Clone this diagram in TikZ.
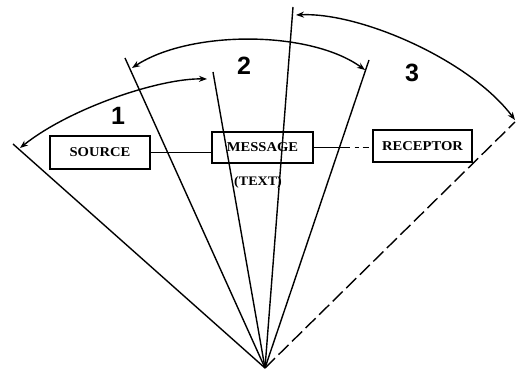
\documentclass[tikz,border=0pt]{standalone}
\usepackage{fontspec}
\usepackage{graphicx}
\setmainfont{Liberation Serif}
\newfontfamily\digitfont{Liberation Sans}
\usetikzlibrary{arrows.meta}
\newcommand\boxlabel[1]{\scalebox{1.08}[1]{\bfseries #1}}
\begin{document}
\begin{tikzpicture}[x=1pt, y=-1pt, line width=1.4pt,
  box/.style={draw, inner sep=0pt, minimum height=31pt, font=\fontsize{13.5}{15}\selectfont},
  span/.style={{Stealth[length=8pt,width=6pt]}-{Stealth[length=8pt,width=6pt]}},
  num/.style={font=\digitfont\bfseries\fontsize{25}{28}\selectfont},
  small/.style={font=\fontsize{13}{15}\selectfont}]
\useasboundingbox (0,0) rectangle (517,371);

% fan of rays from the common apex
\coordinate (O) at (265,368);
\coordinate (r1) at (13,144);
\coordinate (r2) at (125,58);
\coordinate (r3) at (213,72);
\coordinate (r4) at (293,7);
\coordinate (r5) at (369,60);
\coordinate (r6) at (515,122);
\draw (O) -- (r1);
\draw (O) -- (r2);
\draw (O) -- (r3);
\draw (O) -- (r4);
\draw (O) -- (r5);
\draw[dash pattern=on 14pt off 5pt] (O) -- (r6);

% span arcs
\coordinate (a1s) at (207,79);  \coordinate (a1e) at (20,148);
\coordinate (a2s) at (132,68);  \coordinate (a2e) at (365,70);
\coordinate (a3s) at (296,15);  \coordinate (a3e) at (515,120);
\draw[span] (a1s) .. controls (160,78) and (70,108) .. (a1e);
\draw[span] (a2s) .. controls (190,30) and (310,30) .. (a2e);
\draw[span] (a3s) .. controls (360,12) and (470,60) .. (a3e);

\node[num] (n1) at (118,116) {1};
\node[num] (n2) at (244,66) {2};
\node[num] (n3) at (412,73) {3};

% boxes
\node[box, minimum width=100pt, minimum height=33pt] (source) at (100,152.5) {\boxlabel{SOURCE}};
\node[box, minimum width=101pt] (message) at (262.5,147.5) {\boxlabel{MESSAGE}};
\node[box, minimum width=99pt, minimum height=32pt] (receptor) at (422.5,146) {\boxlabel{RECEPTOR}};
\node[small] (text) at (258,182) {\boxlabel{(TEXT)}};

\draw (source.east) -- (source.east -| message.west);
\draw[dash pattern=on 36pt off 5pt on 4pt off 4pt on 6pt off 4pt] (message.east) -- (message.east -| receptor.west);
\end{tikzpicture}
\end{document}
